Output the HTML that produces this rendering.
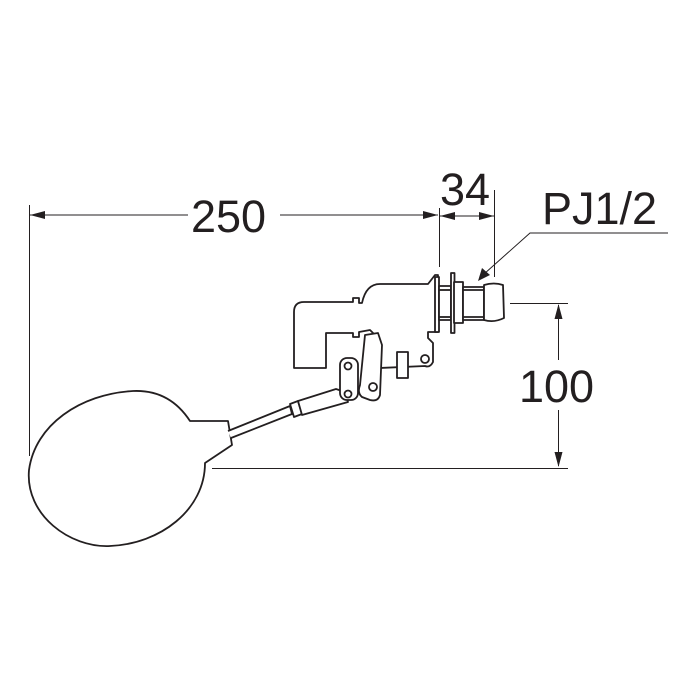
<!DOCTYPE html>
<html><head><style>html,body{margin:0;padding:0;background:#fff}svg{display:block}</style></head><body>
<svg width="700" height="700" viewBox="0 0 700 700" xmlns="http://www.w3.org/2000/svg">
<g stroke="#231f20" stroke-width="1" fill="none">
<!-- 250 dim -->
<line x1="29.5" y1="205" x2="29.5" y2="456"/>
<line x1="30" y1="215" x2="188" y2="215"/>
<line x1="280" y1="215" x2="438" y2="215"/>
<line x1="439.5" y1="208" x2="439.5" y2="267"/>
<line x1="494.5" y1="190" x2="494.5" y2="277"/>
<line x1="440" y1="216" x2="494" y2="216"/>
<!-- leader -->
<polyline points="668,233 530,233 484,274"/>
<!-- 100 dim -->
<line x1="510" y1="303.5" x2="568" y2="303.5"/>
<line x1="212" y1="468.5" x2="568" y2="468.5"/>
<line x1="558.5" y1="305" x2="558.5" y2="360"/>
<line x1="558.5" y1="410" x2="558.5" y2="466"/>
</g>
<g fill="#231f20">
<polygon points="30,215 45,211 45,219"/>
<polygon points="438,215 423,211 423,219"/>
<polygon points="440,216 455,212 455,220"/>
<polygon points="494,216 479,212 479,220"/>
<polygon points="478,281 482,268 490,275"/>
<polygon points="558.5,304 554.5,319 562.5,319"/>
<polygon points="558.5,467 554.5,452 562.5,452"/>
</g>
<g font-family="'Liberation Sans',sans-serif" font-size="45" fill="#231f20">
<text x="191" y="232">250</text>
<text x="440" y="205">34</text>
<text x="542" y="224">PJ1/2</text>
<text x="519" y="402">100</text>
</g>
<g stroke="#231f20" stroke-width="1.8" fill="#fff" stroke-linejoin="round">
<!-- ball -->
<path d="M190,421 C175,398 155,390 133,391 C80,394 35,425 29,470 C25,515 70,548 110,546 C160,544 205,510 205,463 L232,445 L228,421 Z"/>
<!-- rod -->
<path d="M228,431 L290,406 L292,414 L231,438"/>
<path d="M290,404 L298,401 L302,414 L294,417 Z"/>
<path d="M298,401 L336,389 L345,392 L348,402 L302,415 Z"/>
<!-- elbow + body -->
<path d="M294,368 L294,312 Q294,302 304,302 L353,302 L353,298 L359,298 L359,303 L362,303 Q366,284 380,284 L428,284 L435,275 L438,275 L438,332 L428,332 L428,338 L433,343 L433,362 Q430,368 425,366 L380,368 L375,335 L370,330 L359,332 L359,337 L353,337 L353,333 L326,333 L326,368 Z"/>
<circle cx="425" cy="359" r="4"/>
<!-- block -->
<rect x="397" y="352" width="11" height="26"/>
<!-- levers -->
<path d="M365,335 L378,333 L382,345 L380,395 Q378,402 370,400 L362,397 Q357,393 360,385 Z"/>
<circle cx="373" cy="387" r="4"/>
<rect x="340" y="358" width="18" height="42" rx="7"/>
<circle cx="348" cy="366" r="3.5"/>
<circle cx="348" cy="394" r="3.5"/>
<!-- flange/nut/pipe/cap -->
<rect x="435" y="277" width="4" height="55"/>
<rect x="439" y="286" width="12" height="34"/>
<line x1="439" y1="290" x2="451" y2="290"/><line x1="439" y1="317" x2="451" y2="317"/>
<rect x="451" y="273" width="3.5" height="60"/>
<rect x="454" y="282" width="9" height="41"/>
<rect x="463" y="287" width="21" height="33"/>
<line x1="463" y1="290" x2="484" y2="290"/><line x1="463" y1="317" x2="484" y2="317"/>
<path d="M484,285 Q494,282 503,285 L504,318 Q494,323 484,320 Z"/>
</g>
</svg>
</body></html>
